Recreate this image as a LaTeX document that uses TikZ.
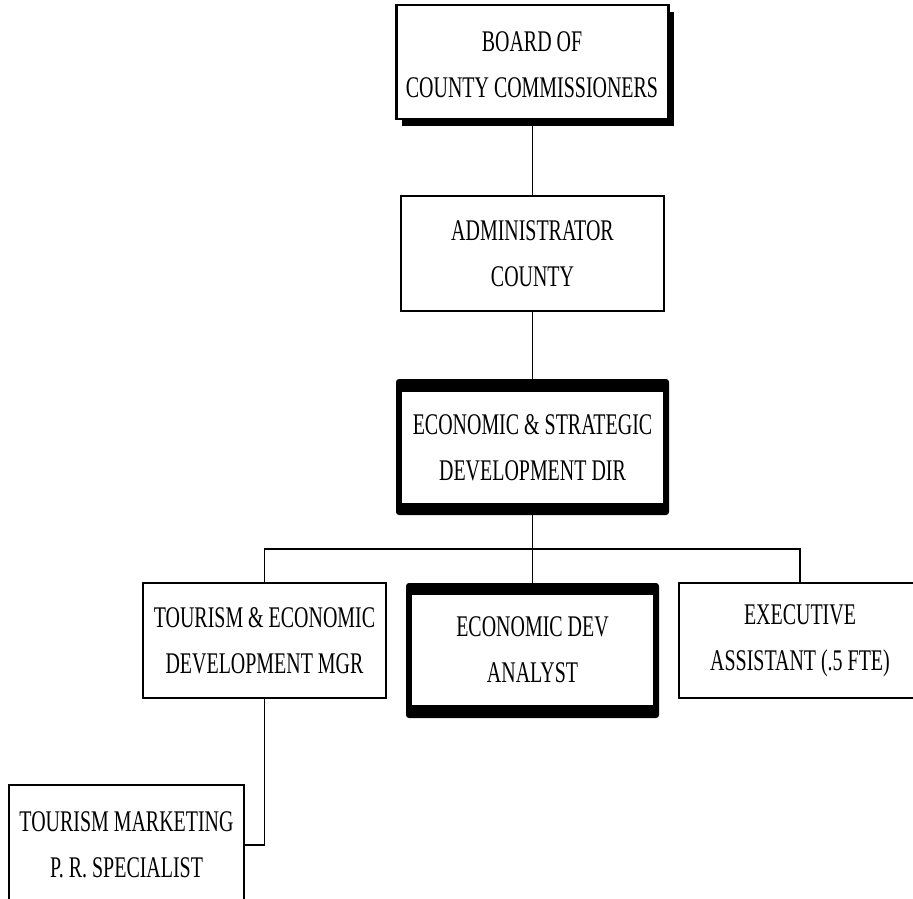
\documentclass[tikz,border=0pt]{standalone}
\usepackage{fontspec}
\setmainfont{Liberation Serif}[FakeStretch=0.665]
\usetikzlibrary{shadows}

\tikzset{
  orgtext/.style={align=center, font=\fontsize{30}{46}\selectfont},
  plainbox/.style={draw=black, line width=2.4pt, fill=white, inner sep=0pt, outer sep=0pt, orgtext},
  shadowbox/.style={plainbox, drop shadow={shadow xshift=5pt, shadow yshift=-7pt, fill=black, opacity=1}},
  heavyframe/.style={fill=black, rounded corners=3pt, inner sep=0pt, outer sep=0pt},
  heavyface/.style={fill=white, inner sep=0pt, outer sep=0pt, orgtext},
  link/.style={draw=black, line width=1.7pt}
}

\begin{document}
\begin{tikzpicture}[x=1pt, y=-1pt]
  \clip (0,0) rectangle (913,899);
  \fill[white] (0,0) rectangle (913,899);

  % top of the chain
  \node[shadowbox, minimum width=272pt, minimum height=114pt] (board) at (532.5,62) {};
  \node[orgtext, inner sep=0pt] (boardtext) at (532,65) {BOARD OF\\COUNTY COMMISSIONERS};
  \node[plainbox, minimum width=263pt, minimum height=115pt] (admin) at (532.5,253.5)
    {ADMINISTRATOR\\COUNTY};

  % director, heavy frame
  \node[heavyframe, minimum width=273pt, minimum height=136pt] (econ) at (532.5,447) {};
  \node[heavyface, minimum width=261pt, minimum height=111pt] (econtext) at (532.5,447.5)
    {ECONOMIC \& STRATEGIC\\DEVELOPMENT DIR};

  % direct reports
  \node[plainbox, minimum width=243pt, minimum height=115pt] (mgr) at (264.5,640.5)
    {TOURISM \& ECONOMIC\\DEVELOPMENT MGR};
  \node[heavyframe, minimum width=253pt, minimum height=135pt] (analyst) at (532.5,650.5) {};
  \node[heavyface, minimum width=241pt, minimum height=110pt] (analysttext) at (532.5,650)
    {ECONOMIC DEV\\ANALYST};
  \node[plainbox, minimum width=242pt, minimum height=115pt] (exec) at (800,640.5)
    {EXECUTIVE\\ASSISTANT (.5 FTE)};

  % under the manager
  \node[plainbox, minimum width=235pt, minimum height=120pt] (mkt) at (126.5,845)
    {TOURISM MARKETING\\P. R. SPECIALIST};

  % reporting lines
  \coordinate (bus) at (532.5,549);
  \draw[link] (board.south) -- (admin.north);
  \draw[link] (admin.south) -- (econ.north);
  \draw[link] (econ.south) -- (analyst.north);
  \draw[link] (mgr.north) |- (bus) -| (exec.north);
  \draw[link] (mgr.south) |- (mkt.east);
\end{tikzpicture}
\end{document}
